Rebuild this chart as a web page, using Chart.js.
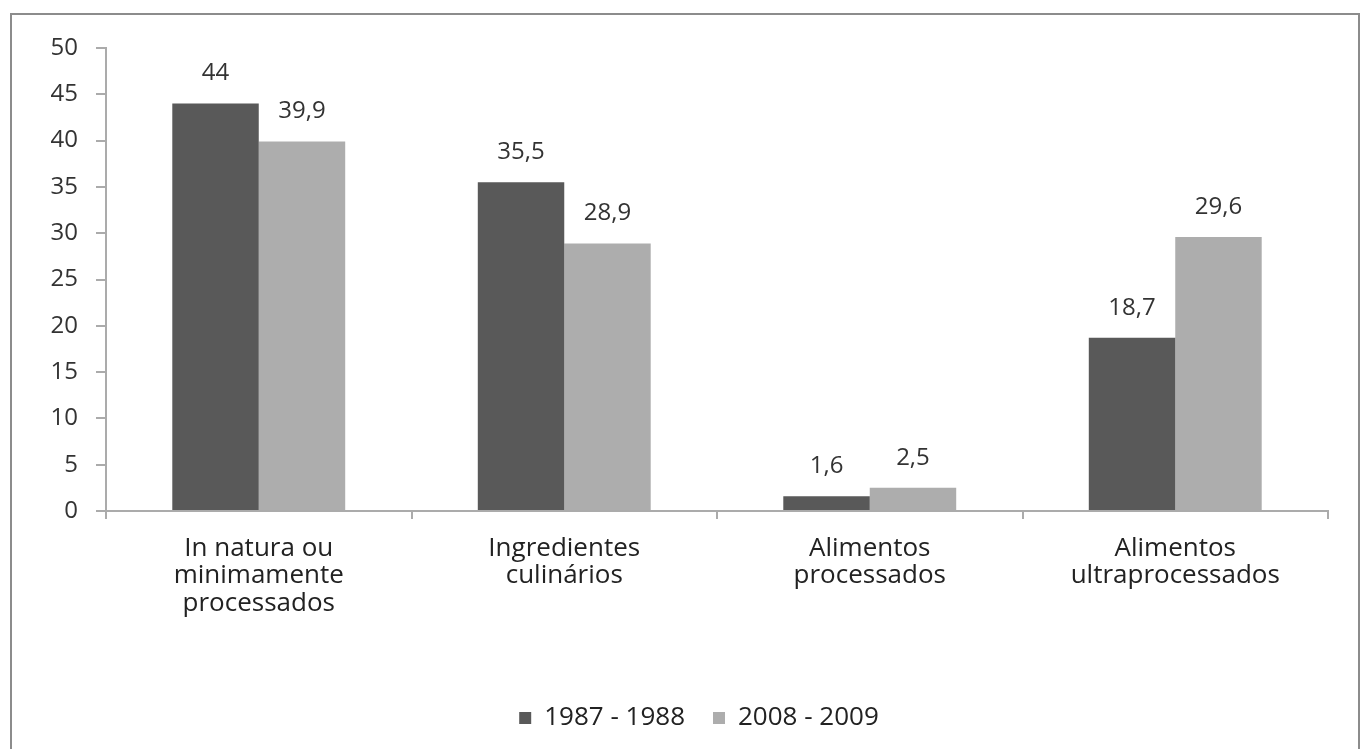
<!DOCTYPE html>
<html>
<head>
<meta charset="utf-8">
<script src="https://cdn.jsdelivr.net/npm/chart.js@4.4.1/dist/chart.umd.min.js"></script>
<style>
    html, body { margin: 0; padding: 0; background: #fff; }
    body { width: 1368px; height: 749px; position: relative; overflow: hidden; }
    #frame { position: absolute; left: 10px; top: 13px; width: 1350px; height: 760px; border: 2px solid #8c8c8c; box-sizing: border-box; }
    #wrap { position: absolute; left: 0; top: 0; width: 1368px; height: 749px; }
</style>
</head>
<body>
<div id="frame"></div>
<div id="wrap"><canvas id="chart"></canvas></div>
<script>
const categories = [
    ['In natura ou', 'minimamente', 'processados'],
    ['Ingredientes', 'culinários'],
    ['Alimentos', 'processados'],
    ['Alimentos', 'ultraprocessados'],
];
const seriesNames = ['1987 - 1988', '2008 - 2009'];
const values1987 = [44, 35.5, 1.6, 18.7];
const values2008 = [39.9, 28.9, 2.5, 29.6];
const yTicks = [0, 5, 10, 15, 20, 25, 30, 35, 40, 45, 50];

const FONT = '"Open Sans", "Noto Sans", sans-serif';
const textColor = '#333';
const axisColor = '#ababab';

// numbers above bars, comma as decimal separator
const barLabels = {
    id: 'barLabels',
    afterDatasetsDraw(chart) {
        const ctx = chart.ctx;
        ctx.save();
        ctx.font = '24px ' + FONT;
        ctx.fillStyle = textColor;
        ctx.textAlign = 'center';
        ctx.textBaseline = 'middle';
        chart.data.datasets.forEach((ds, i) => {
            chart.getDatasetMeta(i).data.forEach((bar, j) => {
                const txt = String(ds.data[j]).replace('.', ',');
                ctx.fillText(txt, bar.x, bar.y - 30);
            });
        });
        ctx.restore();
    },
};

// legend sits a bit right of the canvas centre in the original
const legendShift = {
    id: 'legendShift',
    afterLayout(chart) {
        if (!chart.legend) return;
        chart.legend.left += 35;
        chart.legend.right += 35;
    },
};

new Chart(document.getElementById('chart'), {
    type: 'bar',
    data: {
        labels: categories,
        datasets: [
            { label: seriesNames[0], data: values1987, backgroundColor: '#595959', borderWidth: 0 },
            { label: seriesNames[1], data: values2008, backgroundColor: '#adadad', borderWidth: 0 },
        ],
    },
    options: {
        responsive: true, maintainAspectRatio: false, animation: false,
        layout: { padding: { top: 48, right: 40, bottom: 8, left: 0 } },
        datasets: { bar: { categoryPercentage: 0.566, barPercentage: 1 } },
        plugins: {
            legend: {
                position: 'bottom',
                labels: { boxWidth: 12, boxHeight: 12, padding: 28, color: '#222', font: { family: FONT, size: 26 } },
            },
            tooltip: { enabled: false },
        },
        scales: {
            x: {
                grid: { drawOnChartArea: false, drawTicks: true, tickLength: 8, color: axisColor, lineWidth: 2 },
                border: { display: true, color: axisColor, width: 2 },
                ticks: { color: '#222', padding: 16, font: { family: FONT, size: 26, lineHeight: 1.05 }, maxRotation: 0, autoSkip: false },
                afterFit: (s) => { s.height = 166; },
            },
            y: {
                min: 0, max: 50,
                afterBuildTicks: (s) => { s.ticks = yTicks.map((v) => ({ value: v })); },
                grid: { drawOnChartArea: false, drawTicks: true, tickLength: 10, color: axisColor, lineWidth: 2 },
                border: { display: true, color: axisColor, width: 2 },
                ticks: { color: textColor, padding: 18, font: { family: FONT, size: 24 } },
                afterFit: (s) => { s.width = 106; },
            },
        },
    },
    plugins: [barLabels, legendShift],
});
</script>
</body>
</html>
